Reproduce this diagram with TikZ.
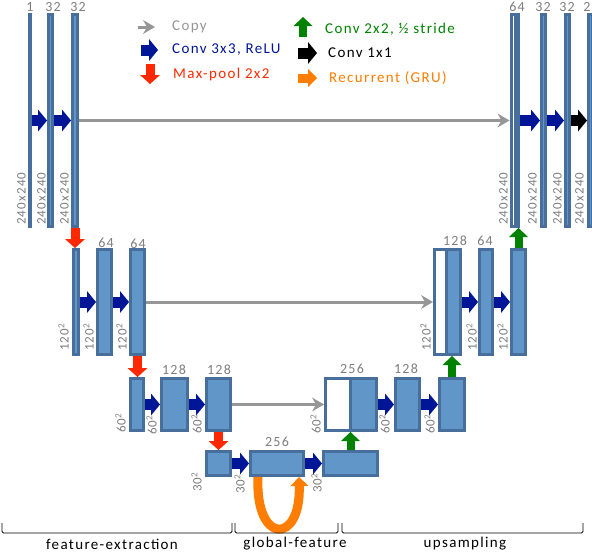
\documentclass[tikz,border=0pt]{standalone}
\usepackage{fontspec}
\setmainfont[LetterSpace=9]{Carlito}
\usetikzlibrary{arrows.meta, positioning, calc}
\definecolor{barLine}{RGB}{72,110,155}
\definecolor{barFill}{RGB}{96,150,200}
\definecolor{convBlue}{RGB}{0,22,150}
\definecolor{poolRed}{RGB}{255,40,0}
\definecolor{upGreen}{RGB}{0,130,0}
\definecolor{gruOrange}{RGB}{255,125,0}
\definecolor{copyGray}{RGB}{150,150,150}
\definecolor{labelGray}{RGB}{125,125,125}

\begin{document}
\begin{tikzpicture}[x=1pt, y=-1pt,
    bar/.style={rectangle, draw=barLine, fill=barFill, line width=3pt, inner sep=0pt},
    catbar/.style={bar, fill=white},
    wh/.style 2 args={minimum width=#1pt, minimum height=#2pt},
    chan/.style={inner sep=0pt, text=labelGray, font=\fontsize{14}{14}\selectfont},
    dimlbl/.style={inner sep=0pt, text=labelGray, font=\fontsize{13}{13}\selectfont, rotate=90, anchor=south west},
    legend/.style={inner sep=0pt, anchor=west, font=\fontsize{15}{15}\selectfont},
    partlbl/.style={inner sep=0pt, font=\fontsize{15}{15}\selectfont},
    conv/.style={draw=convBlue, line width=11pt, -{Triangle[length=9pt, width=22pt, line width=0pt]}},
    convone/.style={conv, draw=black},
    pool/.style={draw=poolRed, line width=9pt, -{Triangle[length=9pt, width=20pt, line width=0pt]}},
    upconv/.style={draw=upGreen, line width=8pt, -{Triangle[length=9pt, width=19pt, line width=0pt]}},
    gru/.style={draw=gruOrange, line width=9pt, -{Triangle[length=9pt, width=18pt, line width=0pt]}},
    copy/.style={draw=copyGray, line width=3pt, -{Stealth[length=12pt, width=14pt, inset=4pt, line width=0pt]}},
    brace/.style={draw=black, line width=0.9pt, rounded corners=1.5pt}
  ]
    \useasboundingbox (0,0) rectangle (592,554);

    % Legend
    \node[legend, text=copyGray] (lgCopy) at (172,27) {Copy};
    \node[legend, text=convBlue] (lgConv) at (172,50) {Conv 3x3, ReLU};
    \node[legend, text=poolRed] (lgPool) at (173,74) {Max-pool 2x2};
    \node[legend, text=upGreen] (lgUp) at (325,29) {Conv 2x2, ½ stride};
    \node[legend, text=black] (lgOne) at (328,53) {Conv 1x1};
    \node[legend, text=gruOrange] (lgGru) at (329,78) {Recurrent (GRU)};

    \draw[copy] ([xshift=-34pt]lgCopy.west) -- ([xshift=-17pt]lgCopy.west);
    \draw[conv] ([xshift=-31pt]lgConv.west) -- ([xshift=-14pt]lgConv.west);
    \draw[pool] ([xshift=-23pt, yshift=10pt]lgPool.west) -- ([xshift=-23pt, yshift=-10pt]lgPool.west);
    \draw[upconv] ([xshift=-22pt, yshift=-8pt]lgUp.west) -- ([xshift=-22pt, yshift=12pt]lgUp.west);
    \draw[convone] ([xshift=-30pt]lgOne.west) -- ([xshift=-11pt]lgOne.west);
    \draw[gru] ([xshift=-31pt]lgGru.west) -- ([xshift=-12pt]lgGru.west);

    % Level 1 (240x240)
    \node[bar, wh={1}{212}] (t1) at (30,120.5) {};
    \node[bar, wh={4}{212}] (t2) at (50.5,120.5) {};
    \node[bar, wh={5}{212}] (t3) at (75,120.5) {};
    \node[catbar, wh={4}{212}] (trW) at (513,120.5) {};
    \node[bar, wh={3}{212}, right=-3pt of trW] (trB) {};
    \node[bar, wh={4}{212}] (tr2) at (543.5,120.5) {};
    \node[bar, wh={4}{212}] (tr3) at (567.5,120.5) {};
    \node[bar, wh={4}{212}] (tr4) at (590.5,120.5) {};

    % Level 2 (120^2)
    \node[bar, wh={5}{105}] (m1) at (76,302) {};
    \node[bar, wh={14}{105}] (m2) at (104.5,302) {};
    \node[bar, wh={14}{105}] (m3) at (137.5,302) {};
    \node[catbar, wh={12}{105}] (mrW) at (440.5,302) {};
    \node[bar, wh={14}{105}, right=-3pt of mrW] (mrB) {};
    \node[bar, wh={13}{105}] (mr2) at (486,302) {};
    \node[bar, wh={14}{105}] (mr3) at (518.5,302) {};

    % Level 3 (60^2)
    \node[bar, wh={13}{52}] (l1) at (137,404.5) {};
    \node[bar, wh={26}{52}] (l2) at (174.5,404.5) {};
    \node[bar, wh={24}{52}] (l3) at (218.5,404.5) {};
    \node[catbar, wh={25}{52}] (lrW) at (338,404.5) {};
    \node[bar, wh={26}{52}, right=-3pt of lrW] (lrB) {};
    \node[bar, wh={24}{52}] (lr2) at (407.5,404.5) {};
    \node[bar, wh={25}{52}] (lr3) at (452,404.5) {};

    % Level 4 (30^2)
    \node[bar, wh={24}{24}] (b1) at (218.5,463.5) {};
    \node[bar, wh={53}{24}] (gf) at (277,463.5) {};
    \node[bar, wh={54}{24}] (br) at (350.5,463.5) {};

    % Channel counts
    \node[chan] at (30,7) {1};
    \node[chan] at (53,7) {32};
    \node[chan] at (78,7) {32};
    \node[chan] at (517,7) {64};
    \node[chan] at (543,7) {32};
    \node[chan] at (567,7) {32};
    \node[chan] at (587,7) {2};
    \node[chan] at (106,243) {64};
    \node[chan] at (138,244) {64};
    \node[chan] at (455,241) {128};
    \node[chan] at (485,241) {64};
    \node[chan] at (174,370) {128};
    \node[chan] at (219,370) {128};
    \node[chan] at (352,369) {256};
    \node[chan] at (406,369) {128};
    \node[chan] at (277,442) {256};

    % Resolutions
    \node[dimlbl] at (26,225) {240x240};
    \node[dimlbl] at (46,225) {240x240};
    \node[dimlbl] at (69,225) {240x240};
    \node[dimlbl] at (508,225) {240x240};
    \node[dimlbl] at (537,225) {240x240};
    \node[dimlbl] at (562,225) {240x240};
    \node[dimlbl] at (584,225) {240x240};
    \node[dimlbl] at (69,351) {120\textsuperscript{2}};
    \node[dimlbl] at (94,351) {120\textsuperscript{2}};
    \node[dimlbl] at (127,351) {120\textsuperscript{2}};
    \node[dimlbl] at (431,351) {120\textsuperscript{2}};
    \node[dimlbl] at (477,351) {120\textsuperscript{2}};
    \node[dimlbl] at (508,351) {120\textsuperscript{2}};
    \node[dimlbl] at (126,433) {60\textsuperscript{2}};
    \node[dimlbl] at (157,435) {60\textsuperscript{2}};
    \node[dimlbl] at (202,434) {60\textsuperscript{2}};
    \node[dimlbl] at (321,434) {60\textsuperscript{2}};
    \node[dimlbl] at (390,434) {60\textsuperscript{2}};
    \node[dimlbl] at (435,434) {60\textsuperscript{2}};
    \node[dimlbl] at (202,492) {30\textsuperscript{2}};
    \node[dimlbl] at (245,494) {30\textsuperscript{2}};
    \node[dimlbl] at (322,493) {30\textsuperscript{2}};

    % Conv 3x3 arrows
    \draw[conv] (t1) -- (t2);
    \draw[conv] (t2) -- (t3);
    \draw[conv] (trB) -- (tr2);
    \draw[conv] (tr2) -- (tr3);
    \draw[convone] (tr3) -- (tr4);
    \draw[conv] (m1) -- (m2);
    \draw[conv] (m2) -- (m3);
    \draw[conv] (mrB) -- (mr2);
    \draw[conv] (mr2) -- (mr3);
    \draw[conv] (l1) -- (l2);
    \draw[conv] (l2) -- (l3);
    \draw[conv] (lrB) -- (lr2);
    \draw[conv] (lr2) -- (lr3);
    \draw[conv] (b1) -- (gf);
    \draw[conv] (gf) -- (br);

    % Copy arrows
    \draw[copy] (t3) -- (trW);
    \draw[copy] (m3) -- (mrW);
    \draw[copy] (l3) -- (lrW);

    % Max-pool arrows
    \draw[pool] (t3.south) -- (t3.south |- m1.north);
    \draw[pool] (m3.south) -- (m3.south |- l1.north);
    \draw[pool] (l3.south) -- (l3.south |- b1.north);

    % Up-conv arrows
    \draw[upconv] (br.north) -- (br.north |- lrB.south);
    \draw[upconv] (lr3.north) -- (lr3.north |- mrB.south);
    \draw[upconv] (mr3.north) -- (mr3.north |- trB.south);

    % Recurrent loop
    \draw[gru] ([xshift=-19pt]gf.south) .. controls ($(gf.south)+(-22,68)$) and ($(gf.south)+(24,68)$) .. ([xshift=22pt]gf.south);

    % Parts
    \draw[brace] (2,523) -- (2,533) -- (232,533) -- (232,523);
    \draw[brace] (235,523) -- (235,533) -- (338,533) -- (338,523);
    \draw[brace] (342,523) -- (342,533) -- (583,533) -- (583,523);
    \node[partlbl] (fe) at (112,544) {feature-extraction};
    \node[partlbl] (gl) at (295,544) {global-feature};
    \node[partlbl] (up) at (465,544) {upsampling};

  \end{tikzpicture}
\end{document}
